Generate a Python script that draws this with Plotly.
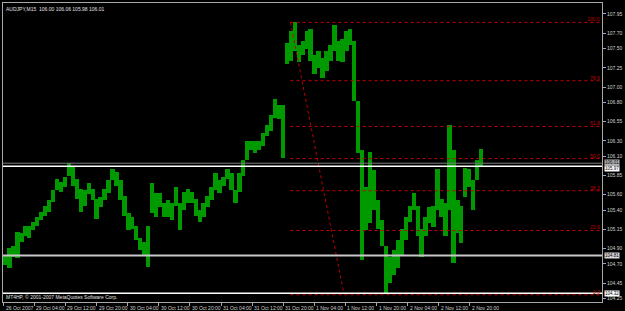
import plotly.graph_objects as go

# ---------------- data ----------------
bar_x = [4, 8, 12, 16, 20, 24, 28, 32, 36, 40, 44, 48, 52, 56, 60, 64, 68, 72, 76, 80,
         84, 88, 92, 96, 100, 104, 108, 112, 116, 120, 124, 128, 132, 136, 140, 144, 148, 152, 156, 160,
         164, 168, 172, 176, 180, 184, 188, 192, 196, 200, 204, 208, 212, 216, 220, 224, 228, 232, 236, 240,
         244, 248, 252, 256, 260, 264, 268, 272, 276, 280, 284, 288, 292, 296, 300, 304, 308, 312, 316, 320,
         324, 328, 332, 336, 340, 344, 348, 352, 356, 360, 364, 368, 372, 376, 380, 384, 388, 392, 396, 400,
         404, 408, 412, 416, 420, 424, 428, 432, 436, 440, 444, 448, 452, 456, 460, 464, 468, 472, 476, 480, 484]

bar_high = [104.81, 104.91, 104.94, 105.11, 105.10, 105.20, 105.19, 105.24, 105.31, 105.37,
            105.45, 105.53, 105.66, 105.81, 105.76, 105.83, 106.01, 105.97, 105.81, 105.68,
            105.66, 105.75, 105.68, 105.55, 105.57, 105.68, 105.79, 105.93, 105.89, 105.79,
            105.59, 105.36, 105.31, 105.20, 105.04, 104.98, 105.20, 105.75, 105.62, 105.62,
            105.49, 105.53, 105.49, 105.70, 105.49, 105.63, 105.68, 105.63, 105.55, 105.40,
            105.49, 105.59, 105.70, 105.88, 105.79, 105.83, 105.94, 105.88, 105.66, 105.88,
            106.05, 106.30, 106.30, 106.30, 106.30, 106.40, 106.50, 106.63, 106.85, 106.76,
            106.76, 107.57, 107.73, 107.84, 107.54, 107.60, 107.73, 107.76, 107.41, 107.47,
            107.38, 107.47, 107.54, 107.81, 107.60, 107.63, 107.73, 107.76, 107.60, 106.82,
            106.18, 105.70, 106.15, 105.92, 105.53, 105.27, 104.94, 104.79, 104.88, 105.01,
            105.16, 105.31, 105.46, 105.62, 105.46, 105.16, 105.31, 105.44, 105.46, 105.94,
            105.55, 105.49, 106.50, 106.18, 105.53, 105.46, 105.95, 105.94, 105.79, 106.05, 106.19]

bar_low = [104.69, 104.65, 104.79, 104.78, 104.98, 105.06, 105.04, 105.14, 105.19, 105.27,
           105.33, 105.37, 105.50, 105.66, 105.63, 105.70, 105.85, 105.72, 105.55, 105.37,
           105.46, 105.61, 105.53, 105.29, 105.44, 105.53, 105.62, 105.79, 105.71, 105.53,
           105.33, 105.14, 105.16, 105.01, 104.88, 104.80, 104.66, 105.36, 105.31, 105.44,
           105.31, 105.31, 105.27, 105.46, 105.14, 105.40, 105.49, 105.49, 105.33, 105.24,
           105.31, 105.44, 105.53, 105.66, 105.62, 105.72, 105.81, 105.66, 105.49, 105.63,
           105.85, 106.05, 106.18, 106.14, 106.18, 106.24, 106.37, 106.43, 106.60, 106.59,
           106.08, 107.30, 107.34, 107.47, 107.32, 107.41, 107.50, 107.34, 107.17, 107.25,
           107.12, 107.21, 107.34, 107.47, 107.34, 107.32, 107.47, 107.54, 106.82, 106.14,
           104.75, 105.14, 105.23, 105.40, 105.16, 104.94, 104.31, 104.45, 104.56, 104.65,
           104.81, 105.01, 105.24, 105.40, 105.07, 104.79, 105.07, 105.23, 105.18, 105.40,
           105.31, 105.07, 105.40, 104.71, 105.10, 104.97, 105.57, 105.70, 105.40, 105.79, 105.98]

price_ticks = [107.95, 107.70, 107.50, 107.25, 107.00, 106.80, 106.55, 106.30, 106.10,
               105.85, 105.60, 105.40, 105.15, 104.90, 104.70, 104.45, 104.25]

time_tick_x = [2.0, 33.1, 64.5, 95.9, 127.3, 158.7, 190.1, 221.5, 252.9, 284.3,
               315.7, 347.1, 378.5, 409.9, 441.3, 472.7]
time_labels = ["26 Oct 2007", "29 Oct 04:00", "29 Oct 12:00", "29 Oct 20:00",
               "30 Oct 04:00", "30 Oct 12:00", "30 Oct 20:00", "31 Oct 04:00",
               "31 Oct 12:00", "31 Oct 20:00", "1 Nov 04:00", "1 Nov 12:00",
               "1 Nov 20:00", "2 Nov 04:00", "2 Nov 12:00", "2 Nov 20:00"]

fib_high = 107.84
fib_low = 104.30
fib_x_start = 291.7
fib_x_end = 345.7
fib_levels = [0.0, 23.6, 38.2, 50.0, 61.8, 78.6, 100.0]

hline_prices = [106.01, 105.97, 104.81, 104.32]
hline_colors = ["#7a7a7a", "#ffffff", "#c8c8c8", "#ffffff"]
hline_widths = [1, 1.5, 2, 1.5]
box_colors = ["#b0b0b0", "#ffffff", "#d8d8d8", "#ffffff"]
box_shift = [0.5, -2.5, 0, 0]

title_text = "AUDJPY,M15  106.00 106.06 105.98 106.01"
copyright_text = "MT4HP, \u00a9 2001-2007 MetaQuotes Software Corp."

x_range = [1.5, 606]
y_range = [104.206, 108.092]

FONT = "Liberation Sans"
RED = "#c00000"
AXIS = "#a8a8a8"

# ---------------- figure ----------------
fig = go.Figure()
fig.add_trace(go.Bar(
    x=bar_x,
    y=[h - l for h, l in zip(bar_high, bar_low)],
    base=bar_low,
    width=4.4,
    marker=dict(color="#009a00", line=dict(width=0)),
    hoverinfo="skip",
))

shapes = []
annotations = []

# Fibonacci retracement
for lv in fib_levels:
    p = fib_low + (fib_high - fib_low) * lv / 100.0
    shapes.append(dict(type="line", xref="x", yref="y", x0=fib_x_start, x1=x_range[1],
                       y0=p, y1=p, line=dict(color=RED, width=1, dash="dot")))
    annotations.append(dict(x=1, y=p, xref="paper", yref="y", xanchor="right", yanchor="bottom",
                            text="%.1f" % lv, showarrow=False, borderpad=0,
                            font=dict(family=FONT, size=5, color=RED), xshift=-1, yshift=-1))
shapes.append(dict(type="line", xref="x", yref="y", x0=fib_x_start, y0=fib_high,
                   x1=fib_x_end, y1=fib_low, line=dict(color=RED, width=1, dash="dot")))

# horizontal lines + price boxes
for p, c, w, bc, sh in zip(hline_prices, hline_colors, hline_widths, box_colors, box_shift):
    shapes.append(dict(type="line", xref="paper", yref="y", x0=0, x1=1, y0=p, y1=p,
                       line=dict(color=c, width=w)))
    annotations.append(dict(x=1, y=p, xref="paper", yref="y", xanchor="left", yanchor="middle",
                            text="%.2f" % p, showarrow=False, bgcolor=bc, borderpad=0,
                            xshift=2, yshift=sh, font=dict(family=FONT, size=4.5, color="#000000")))

# time labels (left aligned after tick mark, as in MT4)
for tx, tl in zip(time_tick_x, time_labels):
    annotations.append(dict(x=tx, y=0, xref="x", yref="paper", xanchor="left", yanchor="top",
                            text=tl, showarrow=False, xshift=0, yshift=-1,
                            font=dict(family=FONT, size=5, color="#d0d0d0")))

annotations.append(dict(x=0, y=1, xref="paper", yref="paper", xanchor="left", yanchor="top",
                        text=title_text, showarrow=False, xshift=1, yshift=-1,
                        font=dict(family=FONT, size=5, color="#e0e0e0")))
annotations.append(dict(x=0, y=0, xref="paper", yref="paper", xanchor="left", yanchor="bottom",
                        text=copyright_text, showarrow=False, xshift=1, yshift=0,
                        font=dict(family=FONT, size=5, color="#e0e0e0")))

fig.update_layout(
    width=625, height=311,
    margin=dict(l=2, r=19, t=2, b=9),
    paper_bgcolor="#000000", plot_bgcolor="#000000",
    showlegend=False, bargap=0,
    shapes=shapes, annotations=annotations,
    xaxis=dict(range=x_range, showgrid=False, zeroline=False, showline=True, linecolor=AXIS,
               linewidth=1, mirror=True, tickvals=time_tick_x, showticklabels=False,
               ticks="outside", ticklen=3, tickcolor=AXIS, fixedrange=True),
    yaxis=dict(range=y_range, side="right", showgrid=False, zeroline=False, showline=True,
               linecolor=AXIS, linewidth=1, mirror=True, tickvals=price_ticks,
               ticktext=["%.2f" % v for v in price_ticks], ticks="outside", ticklen=3,
               tickcolor=AXIS, tickfont=dict(family=FONT, size=5, color="#d0d0d0"),
               fixedrange=True),
)

fig.write_html("out.html")
